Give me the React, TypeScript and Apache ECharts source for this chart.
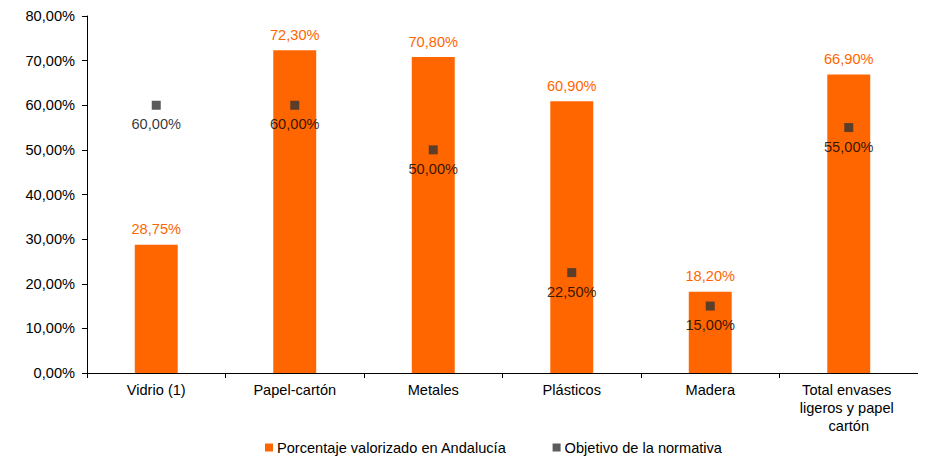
import React, { useEffect, useRef } from "react";
import * as echarts from "echarts";

const categories = ["Vidrio (1)", "Papel-cartón", "Metales", "Plásticos", "Madera", "Total envases ligeros y papel cartón"];
const valorizado = [28.75, 72.3, 70.8, 60.9, 18.2, 66.9];
const objetivo = [60, 60, 50, 22.5, 15, 55];
const yTicks = [0, 10, 20, 30, 40, 50, 60, 70, 80];

const fmt = (v: number) => v.toFixed(2).replace(".", ",") + "%";
const FONT = "Liberation Sans";
const FS = 14.6;

export default function App() {
  const ref = useRef<HTMLDivElement>(null);
  useEffect(() => {
    if (!ref.current) return;
    const chart = echarts.init(ref.current, undefined, { renderer: "svg" });
    chart.setOption({
      animation: false,
      textStyle: { fontFamily: FONT },
      grid: { left: 79, right: -7, top: 8, bottom: 84, containLabel: false },
      legend: {
        bottom: -3,
        left: 252,
        itemWidth: 8,
        itemHeight: 8,
        itemGap: 46,
        textStyle: { fontFamily: FONT, fontSize: FS, color: "#000", padding: [0, 0, 0, -1] },
        data: [
          { name: "Porcentaje valorizado en Andalucía", icon: "rect" },
          { name: "Objetivo de la normativa", icon: "rect" },
        ],
      },
      xAxis: {
        type: "category",
        data: categories,
        axisLine: { lineStyle: { color: "#000", width: 1 } },
        axisTick: { show: true, alignWithLabel: false, length: 5, lineStyle: { color: "#000" } },
        axisLabel: {
          color: "#000",
          fontFamily: FONT,
          fontSize: FS,
          margin: 8,
          width: 112,
          overflow: "break",
          lineHeight: 18,
          interval: 0,
        },
      },
      yAxis: {
        type: "value",
        min: 0,
        max: 80,
        interval: 10,
        axisLine: { show: true, lineStyle: { color: "#000", width: 1 } },
        axisTick: { show: true, length: 5, lineStyle: { color: "#000" } },
        splitLine: { show: false },
        axisLabel: {
          color: "#000",
          fontFamily: FONT,
          fontSize: FS,
          margin: 12,
          formatter: (v: number) => (yTicks.includes(v) ? fmt(v) : ""),
        },
      },
      series: [
        {
          name: "Porcentaje valorizado en Andalucía",
          type: "bar",
          data: valorizado,
          barWidth: "31%",
          itemStyle: { color: "#FF6600" },
          label: {
            show: true,
            position: "top",
            distance: 8,
            color: "#FF6600",
            fontFamily: FONT,
            fontSize: FS,
            formatter: (p: any) => fmt(p.value),
          },
        },
        {
          name: "Objetivo de la normativa",
          type: "scatter",
          data: objetivo,
          symbol: "rect",
          symbolSize: 9,
          itemStyle: { color: "#333333" },
          label: {
            show: true,
            position: "bottom",
            distance: 7,
            color: "#000",
            fontFamily: FONT,
            fontSize: FS,
            formatter: (p: any) => fmt(p.value),
          },
          z: 5,
        },
      ],
    });
    return () => chart.dispose();
  }, []);
  return <div ref={ref} style={{ width: 910, height: 449 }} />;
}
